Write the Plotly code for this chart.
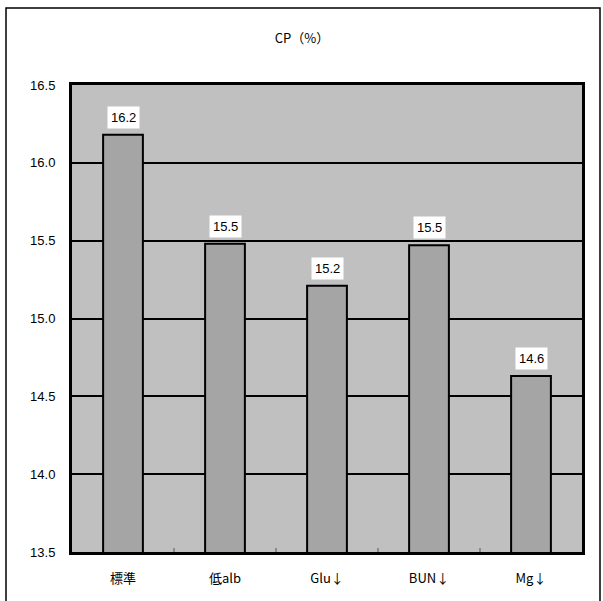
import plotly.graph_objects as go

categories = ["標準", "低alb", "Glu↓", "BUN↓", "Mg↓"]
cp_values = [16.18, 15.48, 15.21, 15.47, 14.63]
y_ticks = [13.5, 14.0, 14.5, 15.0, 15.5, 16.0, 16.5]

W, H = 603, 601
L, R, T, B = 72, 582, 85, 552  # plot area edges in pixels

FONT = "Noto Sans CJK JP, Liberation Sans, sans-serif"
NUM_FONT = "Liberation Sans, Arial, sans-serif"

fig = go.Figure()
fig.add_trace(go.Bar(
    x=categories,
    y=cp_values,
    marker=dict(color="#A5A5A5", line=dict(color="black", width=2)),
    width=0.39,
    showlegend=False,
    hoverinfo="skip",
    cliponaxis=True,
))

for cat, v in zip(categories, cp_values):
    fig.add_annotation(
        x=cat, y=v, text=f"{v:.1f}", showarrow=False,
        yanchor="bottom", yshift=6,
        bgcolor="white", borderpad=3,
        font=dict(family=NUM_FONT, size=13, color="black"),
    )

pw, ph = R - L, B - T
def px_x(x):
    return (x - L) / pw
def px_y(y):
    return (B - y) / ph

# outer chart frame
fig.add_shape(type="rect", xref="paper", yref="paper",
              x0=px_x(6), x1=px_x(600), y0=px_y(603), y1=px_y(8),
              line=dict(color="black", width=1.5), layer="below")

# category separator ticks along the bottom axis
for i in range(1, len(categories)):
    fig.add_shape(type="line", xref="x", yref="paper",
                  x0=i - 0.5, x1=i - 0.5, y0=0, y1=px_y(B - 4),
                  line=dict(color="#555555", width=1))

fig.update_layout(
    width=W, height=H,
    margin=dict(l=L, r=W - R, t=T, b=H - B),
    paper_bgcolor="white",
    plot_bgcolor="#C0C0C0",
    title=dict(text="CP（%）", x=302 / W, xanchor="center",
               y=1 - 38 / H, yanchor="middle",
               font=dict(family=FONT, size=13, color="black")),
    font=dict(family=FONT, size=13, color="black"),
    xaxis=dict(
        showgrid=False, showline=True, linecolor="black",
        linewidth=3, mirror=True, tickfont=dict(size=13),
        ticks="outside", ticklen=12, tickcolor="rgba(0,0,0,0)",
        range=[-0.5, len(categories) - 0.5],
    ),
    yaxis=dict(
        range=[13.5, 16.5], tickvals=y_ticks,
        ticktext=[f"{t:.1f}" for t in y_ticks],
        showgrid=True, gridcolor="black", gridwidth=1.5,
        showline=True, linecolor="black", linewidth=3, mirror=True,
        ticks="outside", ticklen=11, tickcolor="rgba(0,0,0,0)",
        tickfont=dict(family=NUM_FONT, size=13), zeroline=False,
    ),
)

fig.write_html("out.html")
